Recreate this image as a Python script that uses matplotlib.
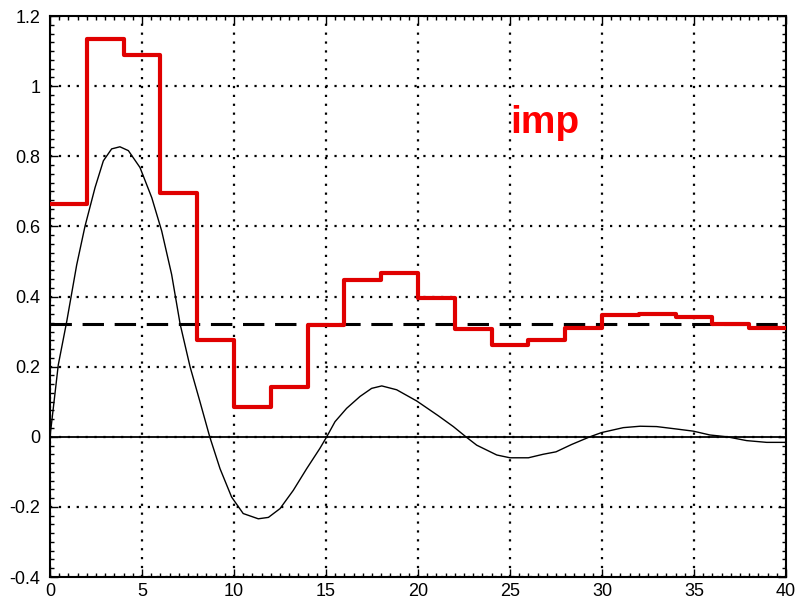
import numpy as np
import matplotlib
matplotlib.use('Agg')
import matplotlib.pyplot as plt
from matplotlib.ticker import MultipleLocator

# step (sampled) response, one value per 2-unit interval
step_edges = [0, 2, 4, 6, 8, 10, 12, 14, 16, 18, 20, 22, 24, 26, 28, 30, 32, 34, 36, 38, 40]
step_vals = [0.665, 1.133, 1.088, 0.694, 0.277, 0.084, 0.143, 0.318, 0.446, 0.467,
             0.396, 0.307, 0.262, 0.277, 0.310, 0.346, 0.351, 0.342, 0.322, 0.311]

# continuous impulse response
imp_t = [0, 0.45, 0.91, 1.45, 1.90, 2.45, 2.90, 3.35, 3.80, 4.26, 4.89, 5.53, 6.07,
         6.61, 7.07, 7.61, 8.15, 8.68, 9.24, 9.87, 10.5, 11.32, 11.87, 12.5, 13.22,
         13.95, 14.67, 15.04, 15.49, 16.12, 16.85, 17.48, 18.03, 18.84, 19.93, 21.1,
         21.92, 22.6, 23.19, 24.28, 25.0, 26.0, 26.8, 27.5, 28.35, 29.35, 29.98,
         31.16, 32.07, 32.97, 34.06, 34.96, 35.87, 36.78, 37.86, 38.95, 40.0]
imp_y = [0, 0.205, 0.329, 0.49, 0.60, 0.711, 0.787, 0.821, 0.827, 0.816, 0.768, 0.682,
         0.587, 0.463, 0.322, 0.200, 0.100, 0.0, -0.091, -0.172, -0.219, -0.234,
         -0.230, -0.205, -0.153, -0.091, -0.033, 0.0, 0.043, 0.081, 0.115, 0.138,
         0.145, 0.134, 0.102, 0.060, 0.029, 0.0, -0.024, -0.052, -0.060, -0.060,
         -0.050, -0.043, -0.022, 0.0, 0.012, 0.026, 0.030, 0.029, 0.022, 0.016,
         0.005, 0.0, -0.011, -0.016, -0.016]

dc_gain = 0.323

plt.rcParams['font.family'] = ['Liberation Sans', 'DejaVu Sans']

fig = plt.figure(figsize=(8, 6.04), dpi=100)
ax = fig.add_axes([0.0625, 0.0447, 0.92, 0.9288])

ax.axhline(0, color='black', lw=1.3, zorder=2)
ax.axhline(dc_gain, color='black', lw=2.2, dashes=(7, 3.5), zorder=3)
ax.plot(imp_t, imp_y, color='black', lw=1.0, zorder=4)
ax.step(step_edges, step_vals + [step_vals[-1]], where='post', color='#e00000',
        lw=3.0, zorder=5)

ax.text(25.0, 0.865, 'imp', color='#ff0000', fontsize=28, fontweight='bold',
        ha='left', va='baseline')

ax.set_xlim(0, 40)
ax.set_ylim(-0.4, 1.2)
ax.xaxis.set_major_locator(MultipleLocator(5))
ax.xaxis.set_minor_locator(MultipleLocator(0.5))
ax.yaxis.set_major_locator(MultipleLocator(0.2))
ax.yaxis.set_minor_locator(MultipleLocator(0.025))
ax.set_yticks([-0.4, -0.2, 0, 0.2, 0.4, 0.6, 0.8, 1.0, 1.2])
ax.set_yticklabels(['-0.4', '-0.2', '0', '0.2', '0.4', '0.6', '0.8', '1', '1.2'])

ax.grid(True, which='major', color='black', lw=1.6, linestyle=(0, (1, 3)))
ax.tick_params(which='both', direction='in', top=True, right=True, labelsize=13,
               color='black', width=1.0)
ax.tick_params(which='major', length=6)
ax.tick_params(which='minor', length=3)
ax.tick_params(axis='y', pad=7)
ax.tick_params(axis='x', pad=4)
for s in ax.spines.values():
    s.set_linewidth(1.5)

fig.savefig('out.png', dpi=100)
